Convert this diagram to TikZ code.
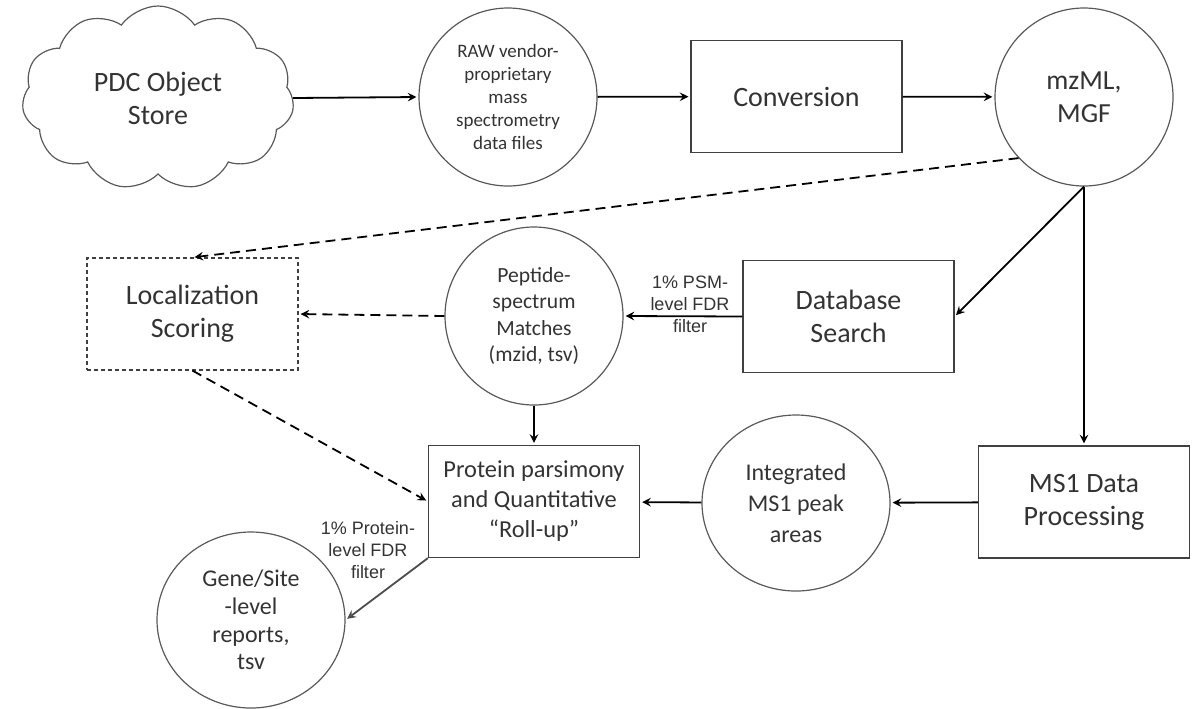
\documentclass[tikz,border=0pt]{standalone}
\usepackage{fontspec}
\setmainfont{Carlito}
\newfontfamily\arialfont{Liberation Sans}
\usetikzlibrary{shapes.geometric, shapes.symbols, arrows, positioning}

\begin{document}
\begin{tikzpicture}[->,>=stealth,shorten >=1pt,line width=0.9pt,x=0.5pt,y=-0.5pt,
    every node/.style={text=black!80},
    proc/.style={rectangle, draw=black!75, line width=0.6pt, minimum width=105.5pt, minimum height=56pt, align=center, font=\fontsize{14}{16.5}\selectfont},
    data/.style={circle, draw=black!65, line width=0.6pt, minimum size=89pt, inner sep=0pt, align=center},
    disc/.style={ellipse, draw=black!65, line width=0.6pt, minimum width=94pt, minimum height=88pt, inner sep=0pt, align=center},
    filt/.style={align=center, font=\arialfont\fontsize{9}{11}\selectfont},
    dashline/.style={dash pattern=on 5pt off 3pt}]
      \useasboundingbox (0,0) rectangle (1204,708);

      \node[cloud, cloud puffs=11, cloud puff arc=110, aspect=1.5, draw=black!65, line width=0.6pt, minimum width=136pt, minimum height=92pt, align=center, font=\fontsize{14}{16.5}\selectfont] (store) at (158,98) {PDC Object\\Store};
      \node[data, font=\fontsize{9.5}{11.5}\selectfont] (raw) at (508,97) {RAW vendor-\\proprietary\\mass\\spectrometry\\data files};
      \node[proc] (conv) at (796.5,96.5) {Conversion};
      \node[data, font=\fontsize{13.8}{16.7}\selectfont] (mzml) at (1084,97) {mzML,\\MGF};

      \node[proc, dash pattern=on 2pt off 1.5pt] (loc) at (192.5,314) {Localization\\Scoring};
      \node[data, font=\fontsize{10.8}{13.3}\selectfont] (psm) at (534,316) {Peptide-\\spectrum\\Matches\\(mzid, tsv)};
      \node[proc] (dbs) at (848.5,316.5) {Database\\Search};

      \node[proc, font=\fontsize{12.2}{15}\selectfont] (prot) at (534,501.5) {Protein parsimony\\and Quantitative\\“Roll-up”};
      \node[disc, font=\fontsize{12}{15.4}\selectfont] (integ) at (796,503) {Integrated\\MS1 peak\\areas};
      \node[proc] (ms1) at (1084,502) {MS1 Data\\Processing};
      \node[disc, font=\fontsize{12}{13.8}\selectfont] (gene) at (251,620) {Gene/Site\\-level\\reports,\\tsv};

      % filter labels
      \node[filt] (psmfdr) at (690,304) {1\% PSM-\\level FDR\\filter};
      \node[filt] (protfdr) at (368,550) {1\% Protein-\\level FDR\\filter};

      \draw (store.east) -- (raw.west);
      \draw (raw) -- (conv);
      \draw (conv) -- (mzml);
      \draw[dashline] (mzml.223) -- (loc.north);
      \draw (mzml.south) -- (dbs.east);
      \draw (mzml.south) -- (ms1.north);
      \draw (dbs.west) -- (psm.east);
      \draw[dashline] (psm.west) -- (loc.east);
      \draw (psm) -- (prot);
      \draw[dashline] (loc.south) -- (prot.west);
      \draw (ms1) -- (integ);
      \draw (integ) -- (prot);
      \draw[black!70] (prot.south west) -- (gene.east);
\end{tikzpicture}
\end{document}
